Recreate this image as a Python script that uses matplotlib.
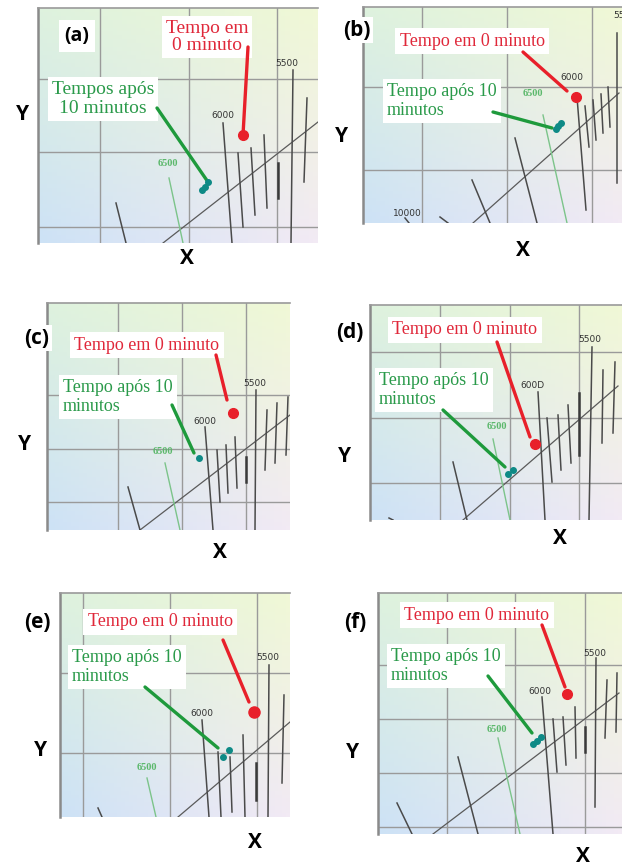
import numpy as np
import matplotlib
matplotlib.use("Agg")
import matplotlib.pyplot as plt

W, H = 622, 868

PANELS = ['(a)', '(b)', '(c)', '(d)', '(e)', '(f)']

# grid positions inside each panel (pixels of the panel)
GRID_X = [[62, 151, 239], [59, 144, 229], [71, 135, 199],
          [70, 140, 209], [23, 110, 197], [69, 137, 207]]
GRID_Y = [[71, 144, 219], [80, 163], [92, 146, 199],
          [47, 113, 178], [80, 160], [72, 126, 180, 234]]

# planckian locus segment
LOCUS = [[(125, 235), (280, 114)], [(110, 216), (256, 86)], [(93, 227), (243, 112)],
         [(93, 215), (248, 81)], [(118, 224), (230, 129)], [(55, 241), (241, 100)]]

# isotherm segments (x0, y0, x1, y1)
ISO = [
    [(78, 195, 88, 235), (185, 115, 194, 235), (200, 145, 205, 219), (213, 140, 217, 207),
     (226, 127, 229, 200), (255, 62, 253, 235), (269, 90, 266, 174)],
    [(42, 211, 46, 216), (77, 210, 85, 216), (109, 173, 127, 216), (152, 131, 174, 216),
     (214, 90, 223, 203), (222, 99, 226, 140), (230, 93, 233, 133), (238, 87, 240, 126),
     (245, 80, 247, 120), (254, 26, 254, 176)],
    [(81, 184, 93, 227), (158, 124, 166, 227), (170, 147, 173, 199), (179, 142, 181, 190),
     (188, 134, 190, 185), (209, 87, 208, 227), (220, 107, 218, 167), (230, 100, 228, 160),
     (241, 94, 239, 152)],
    [(19, 213, 23, 215), (83, 157, 97, 215), (168, 87, 175, 215), (177, 113, 182, 177),
     (188, 110, 191, 165), (198, 100, 201, 158), (222, 42, 219, 215), (233, 65, 232, 138),
     (245, 57, 243, 128)],
    [(38, 215, 42, 224), (142, 127, 149, 224), (158, 159, 161, 224), (170, 164, 172, 219),
     (183, 142, 185, 224), (209, 72, 208, 224), (224, 102, 222, 190)],
    [(19, 210, 34, 241), (80, 164, 100, 241), (164, 104, 175, 241), (175, 126, 179, 179),
     (185, 124, 188, 172), (197, 114, 198, 165), (218, 65, 217, 214), (229, 87, 227, 145),
     (239, 80, 238, 139)],
]
ISO_THICK = [[(240, 155, 240, 190)], [], [(199, 154, 199, 179)], [(209, 88, 209, 150)],
             [(196, 170, 196, 207)], [(207, 134, 207, 159)]]
ISO_6500 = [(131, 170, 145, 235), (180, 108, 204, 216), (118, 160, 133, 227),
            (123, 134, 140, 215), (87, 185, 96, 224), (120, 145, 142, 241)]

ISO_LABELS = [
    [(249, 55, '5500'), (185, 108, '6000')],
    [(250, 8, '5500'), (209, 70, '6000'), (44, 206, '10000')],
    [(208, 80, '5500'), (158, 119, '6000')],
    [(220, 35, '5500'), (162, 80, '600D')],
    [(208, 64, '5500'), (142, 120, '6000')],
    [(217, 60, '5500'), (162, 98, '6000')],
]
LABEL_6500 = [(130, 156), (170, 87), (116, 148), (127, 122), (87, 175), (119, 136)]

RED_PT = [(205, 127), (213, 90), (186, 110), (165, 139), (194, 119), (189, 101)]
RED_LINE = [(210, 39, 205, 127), (160, 45, 204, 84), (169, 52, 180, 97),
            (127, 37, 160, 132), (163, 47, 189, 109), (164, 32, 187, 94)]
TEAL_PTS = [[(170, 174), (164, 182), (167, 179)], [(193, 122), (195, 119), (198, 116)],
            [(152, 155)], [(138, 169), (143, 165)], [(163, 164), (169, 157)],
            [(155, 151), (159, 148), (163, 144)]]
GREEN_LINE = [(119, 100, 170, 174), (130, 105, 189, 121), (125, 102, 147, 150),
              (73, 105, 135, 162), (85, 94, 158, 155), (110, 83, 154, 140)]

RED_TXT = ['Tempo em\n0 minuto'] + ['Tempo em 0 minuto'] * 5
GREEN_TXT = ['Tempos após\n10 minutos'] + ['Tempo após 10\nminutos'] * 5

# layout (figure pixels)
BOX = [(38, 8, 280, 235), (363, 7, 259, 216), (47, 303, 243, 227),
       (370, 305, 252, 215), (60, 593, 230, 224), (378, 593, 244, 241)]
RED_POS = [(169, 29, 'center'), (109, 34, 'center'), (100, 42, 'center'),
           (95, 25, 'center'), (100, 29, 'center'), (99, 22, 'center')]
GREEN_POS = [(65, 91, 'center'), (24, 94, 'left'), (16, 94, 'left'),
             (9, 85, 'left'), (12, 74, 'left'), (13, 73, 'left')]
TXT_SIZE = [14, 13, 13, 13, 13, 13]
LETTER_POS = [(77, 36), (357, 30), (37, 338), (350, 333), (37, 623), (355, 623)]
Y_POS = [(22, 115), (342, 137), (25, 445), (345, 457), (40, 750), (353, 753)]
X_POS = [(187, 258), (523, 250), (220, 553), (560, 538), (255, 842), (583, 857)]


def gradient(w, h):
    tl = np.array([222, 242, 222]) / 255
    tr = np.array([240, 248, 214]) / 255
    bl = np.array([205, 226, 246]) / 255
    br = np.array([242, 234, 244]) / 255
    u = np.linspace(0, 1, 60)[None, :, None]
    v = np.linspace(0, 1, 60)[:, None, None]
    top = tl * (1 - u) + tr * u
    bot = bl * (1 - u) + br * u
    return top * (1 - v) + bot * v


def panel(fig, i):
    x0, y0, w, h = BOX[i]
    ax = fig.add_axes([x0 / W, 1 - (y0 + h) / H, w / W, h / H])
    ax.set_xlim(0, w)
    ax.set_ylim(h, 0)
    ax.imshow(gradient(w, h), extent=(0, w, h, 0), aspect='auto', zorder=0)
    ax.set_xticks([])
    ax.set_yticks([])
    for s in ['right', 'bottom']:
        ax.spines[s].set_visible(False)
    ax.spines['left'].set_color('#8a8a8a')
    ax.spines['left'].set_linewidth(1.8)
    ax.spines['top'].set_color('#9a9a9a')
    ax.spines['top'].set_linewidth(1.2)

    for gx in GRID_X[i]:
        ax.axvline(gx, color='#9a9a9a', lw=1.0, zorder=1)
    for gy in GRID_Y[i]:
        ax.axhline(gy, color='#9a9a9a', lw=1.0, zorder=1)

    (lx0, ly0), (lx1, ly1) = LOCUS[i]
    ax.plot([lx0, lx1], [ly0, ly1], color='#5a5a5a', lw=0.9, zorder=2)
    for a, b, c, d in ISO[i]:
        ax.plot([a, c], [b, d], color='#4a4a4a', lw=1.1, zorder=2)
    for a, b, c, d in ISO_THICK[i]:
        ax.plot([a, c], [b, d], color='#3a3a3a', lw=1.8, zorder=2)
    a, b, c, d = ISO_6500[i]
    ax.plot([a, c], [b, d], color='#7cc48a', lw=1.0, zorder=2)

    for tx, ty, t in ISO_LABELS[i]:
        ax.text(tx, ty, t, fontsize=6.5, color='#333333',
                ha='left' if i == 1 and t == '5500' else 'center',
                va='center', zorder=3, clip_on=True)
    lx, ly = LABEL_6500[i]
    ax.text(lx, ly, '6500', fontsize=7.5, color='#5cb86c', family='Liberation Serif',
            weight='bold', ha='center', va='center', zorder=3)

    # annotation lines drawn above the white label boxes
    a, b, c, d = RED_LINE[i]
    ax.plot([a, c], [b, d], color='#e8202a', lw=2.4, zorder=7, solid_capstyle='round')
    ax.plot(*RED_PT[i], 'o', color='#e8202a', ms=7 if i != 4 else 8, zorder=8)
    a, b, c, d = GREEN_LINE[i]
    ax.plot([a, c], [b, d], color='#1e9a3c', lw=2.4, zorder=7, solid_capstyle='round')
    tp = TEAL_PTS[i]
    ax.plot([p[0] for p in tp], [p[1] for p in tp], 'o', color='#0e8a86', ms=4, zorder=8)

    rx, ry, ha = RED_POS[i]
    ax.text(rx, ry, RED_TXT[i], color='#e0283a', fontsize=TXT_SIZE[i], family='Liberation Serif',
            ha=ha, va='center', linespacing=1.05, zorder=6,
            bbox=dict(fc='white', ec='none', pad=3))
    gx, gy, ha = GREEN_POS[i]
    ax.text(gx, gy, GREEN_TXT[i], color='#2a9a4a', fontsize=TXT_SIZE[i], family='Liberation Serif',
            ha=ha, va='center', linespacing=1.1, zorder=6,
            bbox=dict(fc='white', ec='none', pad=3))

    lx, ly = LETTER_POS[i]
    fig.text(lx / W, 1 - ly / H, PANELS[i], fontsize=14 if i == 0 else 15, weight='bold',
             family='Open Sans', ha='center', va='center',
             bbox=dict(fc='white', ec='none', pad=4 if i == 0 else 2), zorder=10)
    yx, yy = Y_POS[i]
    fig.text(yx / W, 1 - yy / H, 'Y', fontsize=15, weight='bold', family='Open Sans',
             ha='center', va='center')
    xx, xy = X_POS[i]
    fig.text(xx / W, 1 - xy / H, 'X', fontsize=15, weight='bold', family='Open Sans',
             ha='center', va='center')


fig = plt.figure(figsize=(W / 100, H / 100), dpi=100)
fig.patch.set_facecolor('white')
for k in range(len(PANELS)):
    panel(fig, k)

fig.savefig('out.png', dpi=100)
